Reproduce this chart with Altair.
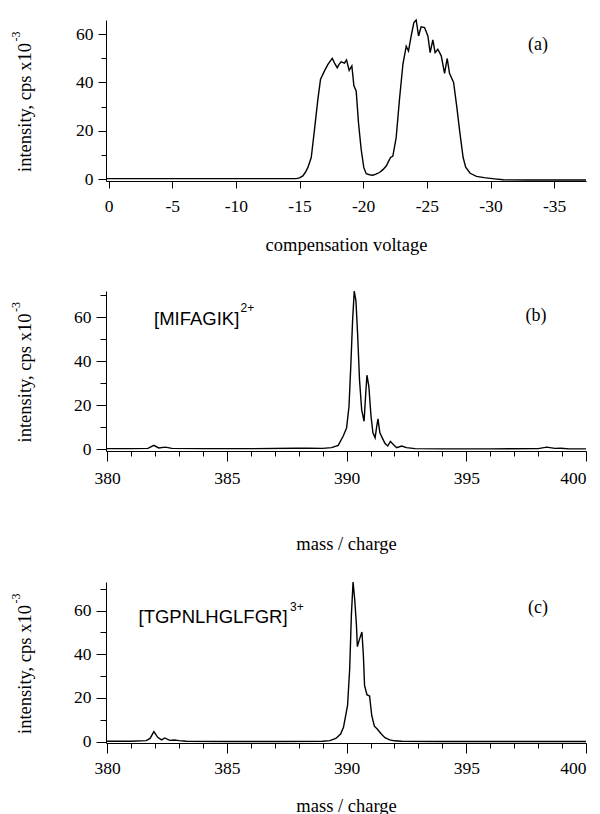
import altair as alt
import pandas as pd

# ---------------- data ----------------
# (a) intensity vs compensation voltage
cv_x = [0.2, -2, -5, -8, -10, -12, -14, -14.74, -15.0, -15.26, -15.45, -15.65,
        -15.92, -16.18, -16.44, -16.65, -16.96, -17.23, -17.57, -17.75, -17.96, -18.1,
        -18.27, -18.53, -18.69, -18.9, -19.11, -19.27, -19.45, -19.63, -19.84, -20.05,
        -20.24, -20.5, -20.76, -21.0, -21.28, -21.55, -21.81, -22.0, -22.15, -22.33,
        -22.59, -22.85, -23.12, -23.38, -23.56, -23.77, -23.98, -24.16, -24.35, -24.55,
        -24.82, -25.08, -25.26, -25.47, -25.65, -25.86, -26.13, -26.39, -26.6, -26.78,
        -27.1, -27.35, -27.6, -27.85, -28.05, -28.4, -28.9, -29.5, -30.3, -31,
        -33, -35, -37.5]
cv_y = [0.3, 0.3, 0.3, 0.3, 0.3, 0.3, 0.3, 0.3, 0.6, 1.4, 2.8, 4.8,
        9, 20.7, 33, 41.3, 44.8, 47.5, 50, 48, 46.1, 47.5,
        48.5, 48, 49.3, 45, 46.8, 38.6, 36.5, 23.4, 12.4, 4.8,
        2.3, 1.9, 1.7, 2.1, 2.8, 4, 5.5, 7.5, 9, 9.6,
        17.2, 33, 47.5, 55, 53, 59.2, 64.7, 65.8, 59.2, 63,
        62.7, 59.2, 52.3, 57.6, 52.3, 53.7, 51, 43.8, 49.9, 43.8,
        40, 30, 19, 9, 5, 2.5, 1.2, 0.7, 0.2, -0.2,
        -0.3, -0.3, -0.3]

# (b) [MIFAGIK]2+ mass spectrum
b_x = [379.95, 381.0, 381.7, 381.95, 382.15, 382.43, 382.7, 384, 386, 387.9,
       388.4, 389.0, 389.37, 389.65, 389.86, 390.0, 390.1, 390.18, 390.25, 390.32,
       390.39, 390.46, 390.54, 390.63, 390.73, 390.8, 390.85, 390.93, 391.02, 391.1,
       391.19, 391.26, 391.31, 391.39, 391.49, 391.6, 391.72, 391.83, 391.95, 392.09,
       392.3, 392.5, 392.86, 394, 396, 398.0, 398.36, 398.7, 398.95, 399.3, 400]
b_y = [0.3, 0.3, 0.4, 1.8, 0.6, 1.0, 0.4, 0.3, 0.3, 0.5,
       0.5, 0.4, 0.75, 1.8, 6, 9.7, 19.4, 38.9, 58.3, 71.8,
       67.3, 52.3, 31.4, 17.9, 12.7, 25.4, 33.6, 28.4, 15, 7.5,
       5.2, 10.5, 13.8, 7.5, 5.2, 2.7, 1.5, 3.6, 2.2, 0.75,
       1.5, 0.75, 0.3, 0.2, 0.2, 0.3, 1.0, 0.4, 0.5, 0.2, 0.2]

# (c) [TGPNLHGLFGR]3+ mass spectrum
c_x = [379.95, 381.0, 381.63, 381.79, 381.95, 382.11, 382.27, 382.41, 382.61, 382.8,
       383.0, 383.3, 385, 387, 389.0, 389.3, 389.55, 389.75, 389.87, 390.04,
       390.13, 390.2, 390.27, 390.34, 390.41, 390.45, 390.53, 390.64, 390.7, 390.75,
       390.85, 390.96, 391.05, 391.16, 391.28, 391.45, 391.6, 391.8, 392.0, 392.3,
       394, 396, 398, 400]
c_y = [0.2, 0.2, 0.5, 1.5, 4.6, 2.0, 0.8, 1.7, 0.6, 0.8,
       0.5, 0.2, 0.1, 0.1, 0.2, 0.5, 1.5, 3.5, 6.6, 16.6,
       33.5, 58, 73.1, 65, 53.5, 43.5, 46.6, 50.2, 39.7, 25.8,
       21.5, 20.9, 12, 7.1, 5.8, 3.5, 1.8, 0.8, 0.4, 0.2,
       0.1, 0.1, 0.1, 0.1]

cv_ticks = [0, -5, -10, -15, -20, -25, -30, -35]
mz_ticks = list(range(380, 401))
ya_ticks = [0, 10, 20, 30, 40, 50, 60]
yb_ticks = [0, 10, 20, 30, 40, 50, 60, 70]

Y_TITLE = "intensity, cps x10"
Y_SUP = "-3"
X_TITLE_A = "compensation voltage"
X_TITLE_MZ = "mass / charge"
ION_B, SUP_B = "[MIFAGIK]", "2+"
ION_C, SUP_C = "[TGPNLHGLFGR]", "3+"
TAGS = ["(a)", "(b)", "(c)"]

SERIF = "Liberation Serif"
SANS = "Liberation Sans"
W = 480
AX = dict(labelFont=SERIF, labelFontSize=17.5, titleFont=SERIF, titleFontSize=18.5,
          titleFontWeight="normal", labelColor="black", titleColor="black",
          domainColor="black", tickColor="black", grid=False)


def txt(s, x, y, font, size, angle=0, align="left"):
    kw = dict(align=align, baseline="alphabetic", font=font, fontSize=size, color="black")
    if angle:
        kw["angle"] = angle
    return alt.Chart(pd.DataFrame({"t": [s]})).mark_text(**kw).encode(
        x=alt.value(x), y=alt.value(y), text="t:N")


def ytitle(h):
    c = h / 2 + 7
    return [txt(Y_TITLE, -75, c, SERIF, 18.5, angle=270, align="center"),
            txt(Y_SUP, -86, c - 66, SERIF, 12, angle=270, align="left")]


def panel(xs, ys, xdom, ydom, xaxis, yaxis, h, extra):
    df = pd.DataFrame({"x": xs, "y": ys})
    line = alt.Chart(df).mark_line(color="black", strokeWidth=1.4).encode(
        x=alt.X("x:Q", scale=alt.Scale(domain=xdom, nice=False, zero=False), axis=xaxis),
        y=alt.Y("y:Q", scale=alt.Scale(domain=ydom, nice=False, zero=False), axis=yaxis),
    )
    return alt.layer(line, *ytitle(h), *extra).properties(width=W, height=h)


def yaxis(vals, major, minor):
    return alt.Axis(
        values=vals, title=None,
        labelExpr="datum.value % 20 === 0 ? '' + datum.value : ''",
        tickSize={"condition": {"test": "datum.value % 20 === 0", "value": major}, "value": minor},
        labelPadding=5, **AX,
    )


xa = alt.Axis(values=cv_ticks, tickSize=7, labelPadding=9.5,
              labelExpr="'' + datum.value", title=X_TITLE_A, titlePadding=20, **AX)


def mz_axis(lpad, tpad):
    return alt.Axis(values=mz_ticks,
                    tickSize={"condition": {"test": "datum.value % 5 === 0", "value": 10}, "value": 5},
                    labelPadding=lpad,
                    labelExpr="datum.value % 5 === 0 ? '' + datum.value : ''",
                    title=X_TITLE_MZ, titlePadding=tpad, **AX)


pa = panel(cv_x, cv_y, [0.2, -37.5], [-0.7, 65.8], xa, yaxis(ya_ticks, 8, 5), 161,
           [txt(TAGS[0], 432, 30, SERIF, 18, align="center")])

pb = panel(b_x, b_y, [379.95, 400], [-0.77, 71.8], mz_axis(8, 48), yaxis(yb_ticks, 10, 6), 160,
           [txt(ION_B, 48, 34.3, SANS, 18.5), txt(SUP_B, 134.5, 21.3, SANS, 12),
            txt(TAGS[1], 430, 29.8, SERIF, 18, align="center")])

pc = panel(c_x, c_y, [379.95, 400], [-0.6, 73.1], mz_axis(6, 20), yaxis(yb_ticks, 10, 6), 161,
           [txt(ION_C, 32.5, 41, SANS, 18.5), txt(SUP_C, 184, 28.7, SANS, 12),
            txt(TAGS[2], 432, 31, SERIF, 18, align="center")])

chart = alt.vconcat(alt.vconcat(pa, pb, spacing=34), pc, spacing=26).properties(
    padding={"left": 2, "top": 9, "right": 0, "bottom": 0}
).configure_view(stroke=None).configure_axis(
    grid=False, domainColor="black", tickColor="black", labelColor="black",
    titleColor="black", labelFont=SERIF, labelFontSize=17.5, titleFont=SERIF,
    titleFontSize=18.5, titleFontWeight="normal", domainWidth=1, tickWidth=1,
)

chart.save("out.html", embed_options={"renderer": "svg", "actions": False})
